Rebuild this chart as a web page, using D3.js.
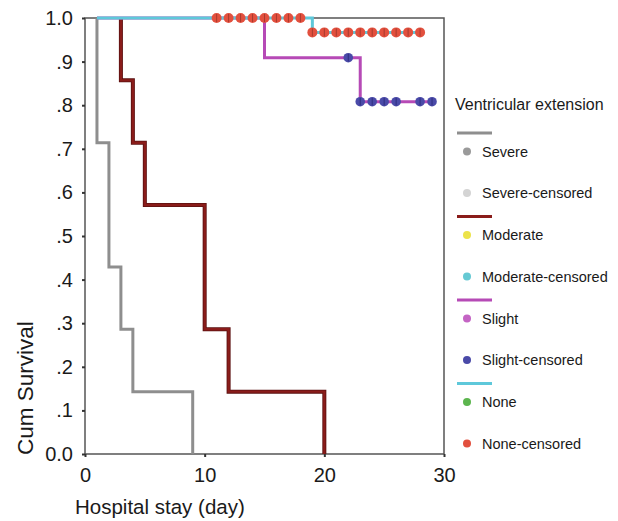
<!DOCTYPE html>
<html>
<head>
<meta charset="utf-8">
<script src="https://cdn.jsdelivr.net/npm/d3@7"></script>
<style>
  body { margin: 0; background: #fff; }
  svg text { font-family: "Liberation Sans", Arial, sans-serif; fill: #1a1a1a; }
</style>
</head>
<body>
<div id="chart"></div>
<script>
var W = 618, H = 521;

// data
var severeStart = 1;
var severeTimes = [1, 2, 3, 4, 9];
var severeSurv = [0.714, 0.429, 0.286, 0.143, 0];

var moderateStart = 3;
var moderateTimes = [3, 4, 5, 10, 12, 20];
var moderateSurv = [0.857, 0.714, 0.571, 0.286, 0.143, 0];

var slightStart = 1;
var slightTimes = [15, 23];
var slightSurv = [0.909, 0.808];
var slightEnd = 29;
var slightCensT = [22, 23, 24, 25, 26, 28, 29];
var slightCensS = [0.909, 0.808, 0.808, 0.808, 0.808, 0.808, 0.808];

var noneStart = 1;
var noneTimes = [19];
var noneSurv = [0.967];
var noneEnd = 28;
var noneCensT = [11, 12, 13, 14, 15, 16, 17, 18, 19, 20, 21, 22, 23, 24, 25, 26, 27, 28];
var noneCensS = [1, 1, 1, 1, 1, 1, 1, 1, 0.967, 0.967, 0.967, 0.967, 0.967, 0.967, 0.967, 0.967, 0.967, 0.967];

var yTicks = [0, 0.1, 0.2, 0.3, 0.4, 0.5, 0.6, 0.7, 0.8, 0.9, 1.0];
var yTickLabels = ["0.0", ".1", ".2", ".3", ".4", ".5", ".6", ".7", ".8", ".9", "1.0"];
var xTicks = [0, 10, 20, 30];

var legendNames = ["Severe", "Severe-censored", "Moderate", "Moderate-censored",
                   "Slight", "Slight-censored", "None", "None-censored"];
var legendDots = ["#9a9a9a", "#d4d4d4", "#ece34a", "#66c9d3", "#c464c4", "#4a4aa8", "#5cb54e", "#e2503e"];
var lineColors = ["#8e8e8e", "#8a1c1a", "#b64ab6", "#5ec8da"];

var x = d3.scaleLinear().domain([0, 30]).range([85, 444]);
var y = d3.scaleLinear().domain([0, 1]).range([454, 18]);

var svg = d3.select("#chart").append("svg")
  .attr("width", W).attr("height", H);

// frame
svg.append("rect")
  .attr("x", x(0)).attr("y", y(1))
  .attr("width", x(30) - x(0)).attr("height", y(0) - y(1))
  .attr("fill", "none").attr("stroke", "#555").attr("stroke-width", 1.5);

// y axis
var yAxis = d3.axisLeft(y).tickValues(yTicks)
  .tickFormat(function(d, i) { return yTickLabels[i]; })
  .tickSize(3).tickPadding(9);
var gy = svg.append("g").attr("transform", "translate(" + x(0) + ",0)").call(yAxis);
gy.select(".domain").remove();
gy.selectAll("line").attr("stroke", "#333").attr("stroke-width", 2);
gy.selectAll("text").style("font-size", "20px").attr("fill", "#1a1a1a");

// x axis
var xAxis = d3.axisBottom(x).tickValues(xTicks).tickSize(3).tickPadding(11);
var gx = svg.append("g").attr("transform", "translate(0," + y(0) + ")").call(xAxis);
gx.select(".domain").remove();
gx.selectAll("line").attr("stroke", "#333").attr("stroke-width", 2);
gx.selectAll("text").style("font-size", "20px").attr("fill", "#1a1a1a");

svg.append("text")
  .attr("x", 75).attr("y", 514)
  .style("font-size", "20.5px")
  .text("Hospital stay (day)");

svg.append("text")
  .attr("transform", "translate(33,455) rotate(-90)")
  .style("font-size", "22.5px")
  .text("Cum Survival");

function steps(start, times, surv, end) {
  var pts = [{t: start, s: 1}];
  times.forEach(function(t, i) { pts.push({t: t, s: surv[i]}); });
  if (end !== undefined) pts.push({t: end, s: surv[surv.length - 1]});
  return pts;
}

var line = d3.line()
  .x(function(d) { return x(d.t); })
  .y(function(d) { return y(d.s); })
  .curve(d3.curveStepAfter);

var curves = [
  steps(severeStart, severeTimes, severeSurv),
  steps(moderateStart, moderateTimes, moderateSurv),
  steps(slightStart, slightTimes, slightSurv, slightEnd),
  steps(noneStart, noneTimes, noneSurv, noneEnd)
];

curves.forEach(function(pts, i) {
  if (i == 1) {
    svg.append("path").datum(pts)
      .attr("d", line).attr("fill", "none")
      .attr("stroke", "#5a1010").attr("stroke-width", 4);
  }
  svg.append("path").datum(pts)
    .attr("d", line)
    .attr("fill", "none")
    .attr("stroke", lineColors[i])
    .attr("stroke-width", i == 1 ? 2.4 : 3);
});

// censored marks
function marks(ts, ss, fill, tick, r) {
  var g = svg.append("g");
  ts.forEach(function(t, i) {
    g.append("circle")
      .attr("cx", x(t)).attr("cy", y(ss[i])).attr("r", r)
      .attr("fill", fill);
    g.append("line")
      .attr("x1", x(t)).attr("x2", x(t))
      .attr("y1", y(ss[i]) - r + 1).attr("y2", y(ss[i]) + r - 1)
      .attr("stroke", tick).attr("stroke-width", 1);
  });
}
marks(slightCensT, slightCensS, "#4a4aa8", "#2e2e80", 4.8);
marks(noneCensT, noneCensS, "#e2503e", "#a83a2e", 5);

// legend
var lg = svg.append("g");
lg.append("text").attr("x", 455).attr("y", 110)
  .style("font-size", "16px").text("Ventricular extension");

for (var k = 0; k < 4; k++) {
  var gy0 = 133 + k * 83.5;
  lg.append("line")
    .attr("x1", 457).attr("x2", 492).attr("y1", gy0).attr("y2", gy0)
    .attr("stroke", lineColors[k]).attr("stroke-width", 3);
  [0, 1].forEach(function(j) {
    var idx = k * 2 + j;
    var cy = gy0 + (j == 0 ? 18.5 : 60);
    lg.append("circle").attr("cx", 467).attr("cy", cy).attr("r", 4)
      .attr("fill", legendDots[idx]);
    lg.append("text").attr("x", 482).attr("y", cy + 5)
      .style("font-size", "14.5px").text(legendNames[idx]);
  });
}
</script>
</body>
</html>
